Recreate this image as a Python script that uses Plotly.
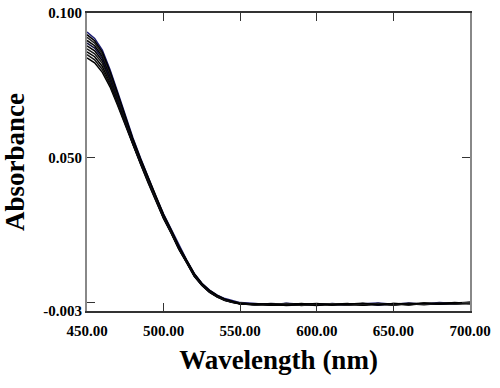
import plotly.graph_objects as go

wavelength = [450, 455, 460, 465, 470, 475, 480, 485, 490, 495, 500, 505, 510, 515, 520, 525, 530, 535, 540, 545,
              550, 560, 570, 580, 590, 600, 610, 620, 630, 640, 650, 660, 670, 680, 690, 700]

spectrum_1 = [0.0934, 0.0912, 0.0872, 0.0805, 0.0727, 0.0648, 0.0568, 0.0498, 0.0431, 0.0366, 0.0305, 0.0252, 0.0195, 0.0147, 0.0100, 0.0066, 0.0042, 0.0025, 0.0013, 0.0005,
              -0.0001, -0.0004, -0.0009, -0.0003, -0.0007, -0.0010, -0.0004, -0.0008, -0.0005, -0.0002, -0.0007, -0.0003, -0.0006, -0.0001, -0.0004, -0.0002]
spectrum_2 = [0.0925, 0.0904, 0.0865, 0.0799, 0.0722, 0.0643, 0.0564, 0.0495, 0.0429, 0.0364, 0.0303, 0.0250, 0.0193, 0.0146, 0.0099, 0.0065, 0.0041, 0.0024, 0.0011, 0.0003,
              -0.0004, -0.0007, -0.0005, -0.0010, -0.0006, -0.0004, -0.0009, -0.0006, -0.0003, -0.0008, -0.0004, -0.0006, -0.0002, -0.0005, -0.0003, 0.0000]
spectrum_3 = [0.0916, 0.0896, 0.0857, 0.0793, 0.0717, 0.0639, 0.0561, 0.0492, 0.0426, 0.0362, 0.0301, 0.0248, 0.0192, 0.0145, 0.0098, 0.0064, 0.0040, 0.0023, 0.0010, 0.0002,
              -0.0002, -0.0009, -0.0006, -0.0005, -0.0011, -0.0006, -0.0005, -0.0010, -0.0007, -0.0005, -0.0009, -0.0004, -0.0007, -0.0003, -0.0006, -0.0003]
spectrum_4 = [0.0905, 0.0887, 0.0850, 0.0786, 0.0711, 0.0634, 0.0557, 0.0489, 0.0424, 0.0359, 0.0299, 0.0247, 0.0190, 0.0143, 0.0096, 0.0063, 0.0039, 0.0022, 0.0010, 0.0003,
              -0.0005, -0.0005, -0.0010, -0.0008, -0.0004, -0.0009, -0.0007, -0.0004, -0.0010, -0.0006, -0.0005, -0.0008, -0.0003, -0.0006, -0.0002, -0.0004]
spectrum_5 = [0.0896, 0.0879, 0.0843, 0.0780, 0.0707, 0.0631, 0.0555, 0.0487, 0.0422, 0.0357, 0.0297, 0.0245, 0.0189, 0.0142, 0.0095, 0.0062, 0.0038, 0.0022, 0.0009, 0.0001,
              -0.0003, -0.0008, -0.0004, -0.0007, -0.0009, -0.0005, -0.0006, -0.0009, -0.0004, -0.0009, -0.0006, -0.0003, -0.0007, -0.0004, -0.0005, -0.0001]
spectrum_6 = [0.0886, 0.0869, 0.0835, 0.0774, 0.0702, 0.0627, 0.0552, 0.0485, 0.0420, 0.0355, 0.0295, 0.0244, 0.0187, 0.0141, 0.0094, 0.0061, 0.0037, 0.0021, 0.0009, 0.0002,
              -0.0006, -0.0006, -0.0008, -0.0004, -0.0008, -0.0011, -0.0005, -0.0006, -0.0008, -0.0004, -0.0008, -0.0006, -0.0004, -0.0007, -0.0003, -0.0005]
spectrum_7 = [0.0876, 0.0859, 0.0826, 0.0767, 0.0697, 0.0623, 0.0549, 0.0483, 0.0418, 0.0353, 0.0294, 0.0242, 0.0186, 0.0140, 0.0093, 0.0060, 0.0036, 0.0020, 0.0008, 0.0001,
              -0.0004, -0.0010, -0.0007, -0.0006, -0.0005, -0.0007, -0.0010, -0.0005, -0.0006, -0.0010, -0.0004, -0.0007, -0.0005, -0.0003, -0.0006, -0.0002]
spectrum_8 = [0.0866, 0.0849, 0.0815, 0.0760, 0.0692, 0.0619, 0.0546, 0.0481, 0.0416, 0.0352, 0.0292, 0.0241, 0.0185, 0.0139, 0.0092, 0.0060, 0.0036, 0.0020, 0.0008, 0.0000,
              -0.0005, -0.0006, -0.0009, -0.0009, -0.0006, -0.0005, -0.0008, -0.0007, -0.0009, -0.0005, -0.0007, -0.0005, -0.0008, -0.0004, -0.0004, -0.0003]
spectrum_9 = [0.0856, 0.0838, 0.0805, 0.0752, 0.0686, 0.0615, 0.0544, 0.0479, 0.0414, 0.0350, 0.0290, 0.0239, 0.0184, 0.0138, 0.0091, 0.0059, 0.0035, 0.0019, 0.0007, 0.0000,
              -0.0003, -0.0007, -0.0006, -0.0011, -0.0008, -0.0006, -0.0006, -0.0009, -0.0005, -0.0007, -0.0010, -0.0004, -0.0006, -0.0005, -0.0001, -0.0004]
spectrum_10 = [0.0845, 0.0828, 0.0795, 0.0745, 0.0680, 0.0611, 0.0541, 0.0477, 0.0412, 0.0348, 0.0289, 0.0238, 0.0183, 0.0137, 0.0090, 0.0058, 0.0034, 0.0018, 0.0006, -0.0001,
               -0.0006, -0.0008, -0.0005, -0.0006, -0.0010, -0.0008, -0.0005, -0.0006, -0.0008, -0.0006, -0.0005, -0.0009, -0.0004, -0.0006, -0.0003, -0.0001]

spectra = [spectrum_1, spectrum_10, spectrum_9, spectrum_8, spectrum_7, spectrum_6,
           spectrum_5, spectrum_4, spectrum_3, spectrum_2]
line_colors = ["#1c1c70", "#000000", "#111111", "#000000", "#1a1a1a", "#000000",
               "#10103a", "#000000", "#222222", "#000000"]

x_tickvals = [450, 500, 550, 600, 650, 700]
x_ticktext = ["450.00", "500.00", "550.00", "600.00", "650.00", "700.00"]
y_tickvals = [-0.003, 0.0, 0.050, 0.100]
y_ticktext = ["-0.003", "", "0.050", "0.100"]

fig = go.Figure()
for s, c in zip(spectra, line_colors):
    fig.add_trace(go.Scatter(x=wavelength, y=s, mode="lines",
                             line=dict(color=c, width=1.5), showlegend=False))

serif = "Liberation Serif, Times New Roman, serif"
fig.update_layout(
    width=500, height=388,
    margin=dict(l=87, r=30, t=13, b=77, autoexpand=False),
    paper_bgcolor="white", plot_bgcolor="white",
    font=dict(family=serif, color="black"),
)
fig.update_xaxes(
    range=[450, 700], tickvals=x_tickvals, ticktext=x_ticktext,
    ticks="inside", ticklen=8, tickwidth=1, tickcolor="#333333",
    showline=True, linecolor="#333333", linewidth=1.5, mirror="ticks",
    showgrid=False, zeroline=False, automargin=False, ticklabeloverflow="allow",
    ticklabelstandoff=5,
    tickfont=dict(family=serif, size=15, weight="bold", color="black"),
    title=dict(text="Wavelength (nm)", standoff=12,
               font=dict(family=serif, size=27, weight="bold", color="black")),
)
fig.update_yaxes(
    range=[-0.003, 0.100], tickvals=y_tickvals, ticktext=y_ticktext,
    ticks="inside", ticklen=8, tickwidth=1, tickcolor="#333333",
    showline=True, linecolor="#888888", linewidth=2, mirror="ticks",
    showgrid=False, zeroline=False, automargin=False, ticklabeloverflow="allow",
    tickfont=dict(family=serif, size=15, weight="bold", color="black"),
    title=dict(text="Absorbance", standoff=13,
               font=dict(family=serif, size=27, weight="bold", color="black")),
)

fig.write_html("out.html", config={"displayModeBar": False},
               post_script="document.body.style.margin='0';")
